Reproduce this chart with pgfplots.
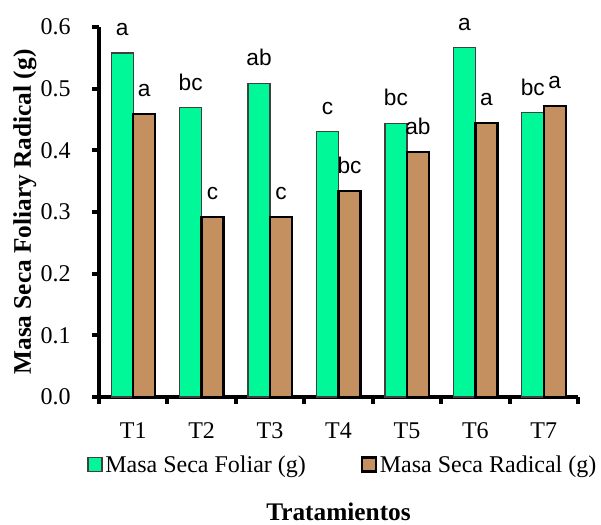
\documentclass[border=0pt]{standalone}
\usepackage{pgfplots}
\pgfplotsset{compat=1.18}
\usepackage{fontspec}
\setmainfont{Liberation Serif}
\newfontfamily\arial{Liberation Sans}
\definecolor{foliar}{RGB}{0,248,152}
\definecolor{radical}{RGB}{196,144,96}

\begin{document}
\begin{tikzpicture}
\begin{axis}[
  width=359.25pt, height=277.5pt, scale only axis,
  xmin=-0.5, xmax=6.5,
  ymin=0, ymax=0.6,
  axis x line=bottom, axis y line=left,
  axis line style={-, line width=3.2pt},
  xtick={0,...,6},
  xticklabels={T1,T2,T3,T4,T5,T6,T7},
  major x tick style={draw=none},
  minor xtick={-0.5,0.5,...,6.5},
  minor x tick style={line width=3pt, black},
  minor tick length=5pt,
  ytick={0,0.1,...,0.6},
  major y tick style={line width=3pt, black},
  major tick length=5pt,
  tick align=outside,
  /pgf/number format/fixed,
  /pgf/number format/fixed zerofill,
  /pgf/number format/precision=1,
  /pgf/number format/assume math mode=true,
  tick label style={font=\fontsize{18}{20}\selectfont, inner sep=0pt},
  xticklabel style={anchor=north, yshift=-13.8pt},
  yticklabel style={anchor=east, xshift=-16pt},
  ylabel={\textbf{Masa Seca Foliary Radical (g)}},
  ylabel style={font=\fontsize{19}{21}\selectfont, at={([xshift=-55.5pt]rel axis cs:0,0.5)}, anchor=center},
  xlabel={\textbf{Tratamientos}},
  xlabel style={font=\fontsize{19}{21}\selectfont, at={([yshift=-86pt]rel axis cs:0.5,0)}, anchor=center},
  ybar, bar width=16.5pt,
  legend style={at={(0.510,0)}, anchor=center, yshift=-51pt, draw=none, fill=none,
    legend columns=2, inner sep=0pt,
    font=\fontsize{18}{20}\selectfont,
    /tikz/every even column/.append style={column sep=39pt}},
  legend cell align=left,
  legend image code/.code={\draw[#1] (0pt,-5pt) rectangle (10.5pt,5.5pt);},
  nodes near coords,
  point meta=explicit symbolic,
  every node near coord/.append style={font=\arial\fontsize{17}{19}\selectfont, yshift=9pt},
  clip=false,
]
\addplot[fill=foliar, draw=black!75, line width=0.9pt, bar shift=-8.25pt]
  coordinates {(0,0.558)[a] (1,0.469)[bc] (2,0.509)[ab] (3,0.430)[c] (4,0.444)[bc] (5,0.567)[a] (6,0.461)[bc]};
\addplot[fill=radical, draw=black, line width=1.9pt, bar shift=8.25pt]
  coordinates {(0,0.459)[a] (1,0.292)[c] (2,0.292)[c] (3,0.334)[bc] (4,0.397)[ab] (5,0.444)[a] (6,0.472)[a]};
\legend{Masa Seca Foliar (g), Masa Seca Radical (g)}
\coordinate (sw) at (rel axis cs:0,0);
\coordinate (ne) at (rel axis cs:1,1);
\end{axis}
\pgfresetboundingbox
\path ([shift={(-74.25pt,-96pt)}]sw) rectangle ([shift={(17.25pt,20.25pt)}]ne);
\end{tikzpicture}
\end{document}
